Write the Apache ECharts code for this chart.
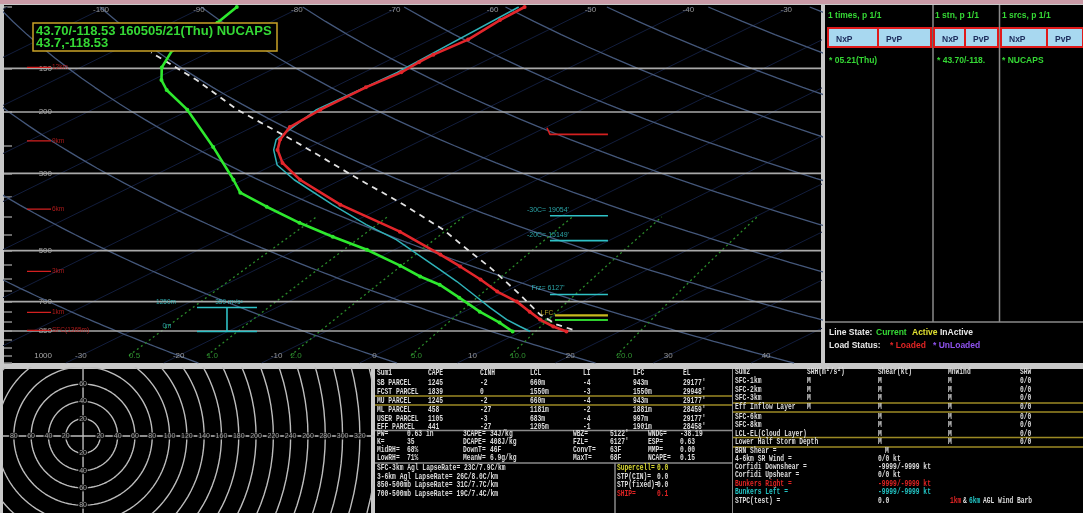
<!DOCTYPE html>
<html>
<head>
<meta charset="utf-8">
<script src="https://cdn.jsdelivr.net/npm/echarts@6/dist/echarts.min.js"></script>
<style>
html,body{margin:0;padding:0;background:#c9c9c9;overflow:hidden}
#c{width:1083px;height:513px}
</style>
</head>
<body>
<div id="c"></div>
<script>
// ---------------- sounding profiles (pressure hPa / value °C) ----------------
const tempPres = [853, 825, 788, 748, 700, 655, 605, 555, 513, 441, 369, 313, 280, 257, 240, 221, 197, 170, 154, 144, 137, 124, 109, 100];
const tempVals = [14.6, 12.2, 9.4, 6.7, 3.3, -0.8, -5.0, -9.8, -14.3, -23.2, -34.9, -44.2, -49.5, -52.7, -54.6, -56.2, -56.7, -56.7, -56.2, -56.5, -56.6, -56.2, -57.0, -57.2];
const dewPres = [853, 804, 748, 682, 626, 593, 552, 497, 456, 416, 374, 341, 313, 252, 197, 173, 162, 149, 133, 122, 111, 100];
const dewVals = [9.1, 5.9, 1.6, -3.4, -8.1, -11.8, -16.1, -22.8, -29.0, -35.3, -42.0, -47.6, -51.0, -59.9, -70.3, -76.5, -79.1, -81.7, -84.2, -84.1, -85.3, -86.6];
const wetbulbPres = [853, 825, 788, 728, 668, 613, 567, 465, 421, 369, 313, 284, 257, 240, 197, 154, 100];
const wetbulbVals = [10.9, 8.8, 6.0, 1.8, -2.6, -7.0, -11.2, -21.9, -28.1, -35.7, -44.8, -49.6, -53.1, -55.0, -57.1, -56.6, -57.8];
const parcelPres = [842, 815, 763, 655, 559, 503, 435, 364, 313, 293, 245, 197, 162, 135];
const parcelVals = [14.8, 12.2, 8.4, 1.2, -6.5, -11.9, -19.2, -29.2, -38.1, -41.9, -52.2, -65.2, -75.5, -85.9];

// ---------------- diagram furniture ----------------
const isobars = [150, 200, 300, 500, 700, 850];
const pressureLabels = [150, 200, 300, 500, 700, 850, 1000];
const pressureTicks = [100, 150, 200, 250, 300, 350, 400, 450, 500, 550, 600, 650, 700, 750, 800, 850, 900, 950, 1000, 1050];
const topTempLabels = [-100, -90, -80, -70, -60, -50, -40, -30];
const bottomTempLabels = [-30, -20, -10, 0, 10, 20, 30, 40];
const mixingRatios = [0.5, 1, 2, 5, 10, 20];
const mixingLabels = ['0.5', '1.0', '2.0', '5.0', '10.0', '20.0'];

// heights AGL marked on the left edge
const heightNames = ['12km', '9km', '6km', '3km', '1km', 'SFC(1365m)'];
const heightPres = [149, 242, 380, 573, 752, 847];

// level markers on the right side
const levelNames = ["-30C= 19054'", "-20C= 15149'", "Frz= 6127'"];
const levelPres = [397, 468, 668];
const lfcPres = 767, lclPres = 790, elPres = 232, elHookPres = 222;
const inflowTopPres = 728, inflowBotPres = 853;
const inflowTexts = ['1250m', '0m', '359 m²/s²'];

// hodograph rings and labels (kt)
const ringKts = [20, 40, 60, 80, 100, 120, 140, 160, 180, 200, 220, 240, 260, 280, 300, 320, 340];
const hodoXLabels = [-80, -60, -40, -20, 20, 40, 60, 80, 100, 120, 140, 160, 180, 200, 220, 240, 260, 280, 300, 320];
const hodoYLabels = [60, 40, 20, -20, -40, -60, -80];

// text panels
const titleLines = ['43.70/-118.53 160505/21(Thu) NUCAPS', '43.7,-118.53'];
const sum1Header = ['Sum1', 'CAPE', 'CINH', 'LCL', 'LI', 'LFC', 'EL'];
const sum1Rows = [
  ['SB PARCEL', '1245', '-2', '660m', '-4', '943m', "29177'"],
  ['FCST PARCEL', '1839', '0', '1550m', '-3', '1550m', "29948'"],
  ['MU PARCEL', '1245', '-2', '660m', '-4', '943m', "29177'"],
  ['ML PARCEL', '458', '-27', '1181m', '-2', '1881m', "28459'"],
  ['USER PARCEL', '1105', '-3', '683m', '-4', '997m', "29177'"],
  ['EFF PARCEL', '441', '-27', '1205m', '-1', '1901m', "28458'"]
];
const paramRows = [
  ['PW=', '0.63 in', '3CAPE=', '34J/kg', 'WBZ=', "5122'", 'WNDG=', '-38.19'],
  ['K=', '35', 'DCAPE=', '408J/kg', 'FZL=', "6127'", 'ESP=', '0.63'],
  ['MidRH=', '68%', 'DownT=', '46F', 'ConvT=', '63F', 'MMP=', '0.00'],
  ['LowRH=', '71%', 'MeanW=', '6.9g/kg', 'MaxT=', '68F', 'NCAPE=', '0.15']
];
const lapseRows = [
  'SFC-3km Agl LapseRate= 23C/7.9C/km',
  '3-6km Agl LapseRate= 26C/8.0C/km',
  '850-500mb LapseRate= 31C/7.7C/km',
  '700-500mb LapseRate= 19C/7.4C/km'
];
const stormParams = [['Supercell=', '0.0', '#d9d934'], ['STP(CIN)=', '0.0', '#dcdcdc'], ['STP(fixed)=', '0.0', '#dcdcdc'], ['SHIP=', '0.1', '#e02424']];
const sum2Header = ['Sum2', 'SRH(m²/s²)', 'Shear(kt)', 'MnWind', 'SRW'];
const sum2Rows = [
  ['SFC-1km', 'M', 'M', 'M', '0/0'],
  ['SFC-2km', 'M', 'M', 'M', '0/0'],
  ['SFC-3km', 'M', 'M', 'M', '0/0'],
  ['Eff Inflow Layer', 'M', 'M', 'M', '0/0'],
  ['SFC-6km', '', 'M', 'M', '0/0'],
  ['SFC-8km', '', 'M', 'M', '0/0'],
  ['LCL-EL(Cloud Layer)', '', 'M', 'M', '0/0'],
  ['Lower Half Storm Depth', '', 'M', 'M', '0/0']
];
const windRows = [
  ['BRN Shear =', 'M', '#dcdcdc'],
  ['4-6km SR Wind =', '0/0 kt', '#dcdcdc'],
  ['Corfidi Downshear =', '-9999/-9999 kt', '#dcdcdc'],
  ['Corfidi Upshear =', '0/0 kt', '#dcdcdc'],
  ['Bunkers Right =', '-9999/-9999 kt', '#e02424'],
  ['Bunkers Left =', '-9999/-9999 kt', '#22c4c4'],
  ['STPC(test) =', '0.0', '#dcdcdc']
];

// ---------------- skew-T geometry ----------------
const SKEW = 31.5;                       // °C of shift per ln(1000/p)
const XMIN = -37.85, XMAX = 45.61;       // skewed temperature range across the panel
const PX_PER_DEG = 9.79;
const skewX = (t, p) => t + SKEW * Math.log(1000 / p);
const colX = px => XMIN + (px - 4) / PX_PER_DEG;   // layout column -> axis units

const thetaT = (t1000, p) => (t1000 + 273.15) * Math.pow(p / 1000, 0.2857) - 273.15;
const mixT = (w, p) => { const e = w * p / (622 + w); const l = Math.log(e / 6.112); return 243.5 * l / (17.67 - l); };

const series = [];
const lineS = (data, style, extra) => Object.assign({
  type: 'line', data, xAxisIndex: 0, yAxisIndex: 0, symbol: 'none', silent: true,
  clip: true, lineStyle: style, z: 2
}, extra || {});

// isotherms
for (let t = -110; t <= 40; t += 10) {
  series.push(lineS([[skewX(t, 1050), 1050], [skewX(t, 100), 100]], { color: '#121d3c', width: 1 }));
}
// dry adiabats
for (let t0 = -40; t0 <= 220; t0 += 20) {
  const d = [];
  for (let p = 1050; p >= 100; p -= 10) d.push([skewX(thetaT(t0, p), p), p]);
  series.push(lineS(d, { color: '#44577a', width: 1.3 }));
}
// mixing ratio lines
mixingRatios.forEach(w => {
  const d = [];
  for (let p = 1000; p >= 400; p -= 20) d.push([skewX(mixT(w, p), p), p]);
  series.push(lineS(d, { color: '#2a8a2a', width: 1.3, type: [2, 3] }));
});
// isobars
isobars.forEach(p => series.push(lineS([[XMIN, p], [XMAX, p]], { color: '#a9a9a9', width: 1.6 }, { z: 3 })));

// temperature labels and mixing ratio labels
const labelScatter = (data, label, z) => ({
  type: 'scatter', xAxisIndex: 0, yAxisIndex: 0, symbolSize: 0, silent: true, z: z || 6,
  data, label: Object.assign({ show: true, formatter: '{b}', position: 'inside', fontFamily: 'Liberation Sans', fontSize: 8 }, label)
});
series.push(labelScatter(topTempLabels.map(t => ({ name: String(t), value: [skewX(t, 101.5), 101.5] })), { color: '#b8b8b8', offset: [0, 1] }));
series.push(labelScatter(bottomTempLabels.map(t => ({ name: String(t), value: [t, 1000] })), { color: '#b8b8b8' }));
series.push(labelScatter(mixingRatios.map((w, i) => ({ name: mixingLabels[i], value: [skewX(mixT(w, 1000), 1000), 1000] })), { color: '#3cb43c', align: 'left' }));

// height markers on the left
heightNames.forEach((n, i) => {
  series.push(lineS([[colX(27), heightPres[i]], [colX(51), heightPres[i]]], { color: '#d42020', width: 1.2 }, { z: 5 }));
});
series.push(labelScatter(heightNames.map((n, i) => ({ name: n, value: [colX(52), heightPres[i]] })), { color: '#d42020', align: 'left', fontSize: 6.5 }));

// level markers
const LX0 = colX(550), LX1 = colX(608), LTX = colX(548);
levelPres.forEach(p => series.push(lineS([[LX0, p], [LX1, p]], { color: '#2fc1c6', width: 1.6 }, { z: 5 })));
series.push(labelScatter(levelNames.map((n, i) => ({ name: n, value: [LTX, levelPres[i]] })), { color: '#35c8cc', fontSize: 7, offset: [0, -6] }));
series.push(lineS([[colX(555), lfcPres], [LX1, lfcPres]], { color: '#c8b81e', width: 2.2 }, { z: 5 }));
series.push(lineS([[colX(555), lclPres], [LX1, lclPres]], { color: '#2fd02f', width: 2 }, { z: 5 }));
series.push(labelScatter([{ name: 'LFC', value: [colX(547), lfcPres] }], { color: '#d8c42a', fontSize: 6.5, offset: [0, -2] }));
series.push(labelScatter([{ name: 'LCL', value: [colX(547), lclPres] }], { color: '#2fd02f', fontSize: 6.5, offset: [0, 1] }));
series.push(lineS([[colX(547), elHookPres], [colX(550), elPres], [LX1, elPres]], { color: '#d42020', width: 1.6 }, { z: 5 }));

// effective inflow layer bracket
const IX0 = colX(197), IX1 = colX(257), IXM = colX(227);
series.push(lineS([[IX0, inflowTopPres], [IX1, inflowTopPres]], { color: '#2fc1c6', width: 1.6 }, { z: 5 }));
series.push(lineS([[IX0, inflowBotPres], [IX1, inflowBotPres]], { color: '#2fc1c6', width: 1.6 }, { z: 5 }));
series.push(lineS([[IXM, inflowTopPres], [IXM, inflowBotPres]], { color: '#2fc1c6', width: 1.6 }, { z: 5 }));
series.push(labelScatter([
  { name: inflowTexts[0], value: [colX(166), inflowTopPres] },
  { name: inflowTexts[2], value: [colX(229), inflowTopPres] },
  { name: inflowTexts[1], value: [colX(167), inflowBotPres] }
], { color: '#35c8cc', fontSize: 6.5, offset: [0, -5] }));

// profiles
const prof = (pres, vals) => pres.map((p, i) => [skewX(vals[i], p), p]);
series.push(lineS(prof(wetbulbPres, wetbulbVals), { color: '#2fb2b8', width: 1.5 }, { z: 7 }));
series.push(lineS(prof(parcelPres, parcelVals), { color: '#e2e2e2', width: 1.8, type: [6, 5] }, { z: 8 }));
series.push(lineS(prof(tempPres, tempVals), { color: '#e3262b', width: 2.6 },
  { z: 9, symbol: 'circle', symbolSize: 4, showSymbol: true, itemStyle: { color: '#e3262b' } }));
series.push(lineS(prof(dewPres, dewVals), { color: '#2ee82e', width: 2.6 },
  { z: 9, symbol: 'circle', symbolSize: 4, showSymbol: true, itemStyle: { color: '#2ee82e' } }));

// ---------------- hodograph ----------------
const hodoS = (data, style) => ({ type: 'line', data, xAxisIndex: 1, yAxisIndex: 1, symbol: 'none', silent: true, clip: true, lineStyle: style, z: 2 });
ringKts.forEach(r => {
  const d = [];
  for (let a = 0; a <= 360; a += 3) d.push([r * Math.cos(a * Math.PI / 180), r * Math.sin(a * Math.PI / 180)]);
  series.push(hodoS(d, { color: '#bdbdbd', width: 1.4 }));
});
series.push(hodoS([[-100, 0], [340, 0]], { color: '#bdbdbd', width: 1.4 }));
series.push(hodoS([[0, -100], [0, 100]], { color: '#bdbdbd', width: 1.4 }));
const hodoLabel = { show: true, formatter: '{b}', position: 'inside', color: '#c4c4c4', fontSize: 7, fontFamily: 'Liberation Sans', backgroundColor: '#000', padding: [0, 1] };
series.push({ type: 'scatter', xAxisIndex: 1, yAxisIndex: 1, symbolSize: 0, silent: true, z: 4, label: hodoLabel,
  data: hodoXLabels.map(v => ({ name: String(Math.abs(v)), value: [v, 0] })).concat(hodoYLabels.map(v => ({ name: String(Math.abs(v)), value: [0, v] }))) });

// ---------------- graphic panels and text ----------------
const G = [];
const rect = (x, y, w, h, fill, z, stroke, lw) => G.push({ type: 'rect', z: z || 0, silent: true, shape: { x, y, width: w, height: h }, style: { fill, stroke: stroke || null, lineWidth: lw || 0 } });
const hline = (x1, x2, y, color, w, z) => G.push({ type: 'line', z: z || 1, silent: true, shape: { x1, y1: y, x2, y2: y }, style: { stroke: color, lineWidth: w || 1 } });
const vline = (x, y1, y2, color, w, z) => G.push({ type: 'line', z: z || 1, silent: true, shape: { x1: x, y1, x2: x, y2 }, style: { stroke: color, lineWidth: w || 1 } });
const txt = (x, y, text, fill, font, z, sx) => G.push({ type: 'text', x, y, z: z || 100, silent: true, scaleX: sx || 1,
  style: { text, fill, font, textAlign: 'left', align: 'left', textVerticalAlign: 'middle', verticalAlign: 'middle' } });

// table cells: monospaced glyphs squeezed to the narrow cell pitch
const F_TAB = 'bold 9px "Liberation Mono", monospace';
const SX_TAB = 0.7;
const cell = (x, y, text, fill) => txt(x, y, text, fill, F_TAB, 100, SX_TAB);
const F_PAN = 'bold 8.5px "Liberation Sans", sans-serif';
const TAB_C = '#dcdcdc';

// window chrome
rect(0, 0, 1083, 4, '#c99aa6', -1);
rect(4, 5, 817, 358, '#000', 0);
rect(825, 5, 258, 358, '#000', 0);
rect(3, 369, 368, 144, '#000', 0);
rect(375, 369, 357, 144, '#000', 0);
rect(733, 369, 350, 144, '#000', 0);

// title box
rect(33, 23, 244, 28, '#000', 50, '#c9a227', 1.5);
txt(36, 31, titleLines[0], '#35d835', 'bold 13px "Liberation Sans", sans-serif', 51);
txt(36, 43, titleLines[1], '#35d835', 'bold 13px "Liberation Sans", sans-serif', 51);

// right control panel
txt(828, 16, '1 times, p 1/1', '#35d835', F_PAN);
txt(935, 16, '1 stn, p 1/1', '#35d835', F_PAN);
txt(1002, 16, '1 srcs, p 1/1', '#35d835', F_PAN);
const buttons = [[828, 878], [878, 931], [934, 965], [965, 998], [1001, 1047], [1047, 1083]];
buttons.forEach((b, i) => {
  rect(b[0], 28, b[1] - b[0], 19, '#a8d8f0', 5, '#e01a1a', 2);
  txt(b[0] + 8, 40, i % 2 === 0 ? 'NxP' : 'PvP', '#1c2c5c', F_PAN);
});
vline(933, 5, 322, '#8a8a8a', 1.5);
vline(999.5, 5, 322, '#8a8a8a', 1.5);
hline(825, 1083, 322, '#8a8a8a', 1.5);
txt(829, 61, '* 05.21(Thu)', '#35d835', F_PAN);
txt(937, 61, '* 43.70/-118.', '#35d835', F_PAN);
txt(1002, 61, '* NUCAPS', '#35d835', F_PAN);
txt(829, 333, 'Line State:', '#e8e8e8', F_PAN);
txt(876, 333, 'Current', '#35d835', F_PAN);
txt(912, 333, 'Active', '#e0e030', F_PAN);
txt(940, 333, 'InActive', '#e8e8e8', F_PAN);
txt(829, 346, 'Load Status:', '#e8e8e8', F_PAN);
txt(890, 346, '* Loaded', '#e02424', F_PAN);
txt(933, 346, '* UnLoaded', '#8f52ee', F_PAN);

// parcel summary table
const s1x = [377, 428, 480, 530, 583, 633, 683];
const s1y = [373, 382.5, 391.5, 400.5, 409.5, 418.5, 427];
hline(375, 732, 396, '#9c8a24', 1.5, 3);
hline(375, 732, 405, '#9c8a24', 1.5, 3);
sum1Header.forEach((h, j) => cell(s1x[j], s1y[0], h, TAB_C));
sum1Rows.forEach((r, i) => r.forEach((v, j) => cell(s1x[j], s1y[i + 1], v, TAB_C)));
hline(375, 732, 430.5, '#8a8a8a', 1.5);
const p2x = [377, 407, 463, 490, 573, 610, 648, 680];
const p2y = [433.5, 441.5, 449.5, 457.5];
paramRows.forEach((r, i) => r.forEach((v, j) => cell(p2x[j], p2y[i], v, TAB_C)));
hline(375, 732, 463, '#8a8a8a', 1.5);
vline(615, 463, 513, '#8a8a8a', 1.5);
const p3y = [468, 476.5, 485, 493.5];
lapseRows.forEach((v, i) => cell(377, p3y[i], v, TAB_C));
stormParams.forEach((r, i) => { cell(617, p3y[i], r[0], r[2]); cell(657, p3y[i], r[1], r[2]); });

// shear summary table
vline(732.5, 369, 513, '#8a8a8a', 1);
const s2x = [735, 807, 878, 948, 1020];
const s2y = [372, 380.5, 389.5, 398, 407, 416.5, 425, 433.5, 442];
hline(733, 1083, 403, '#9c8a24', 1.5, 3);
hline(733, 1083, 412, '#9c8a24', 1.5, 3);
hline(733, 1083, 437.5, '#9c8a24', 1.5, 3);
hline(733, 1083, 447, '#9c8a24', 1.5, 3);
sum2Header.forEach((h, j) => cell(s2x[j], s2y[0], h, TAB_C));
sum2Rows.forEach((r, i) => r.forEach((v, j) => { if (v) cell(s2x[j], s2y[i + 1], v, TAB_C); }));
const wy = [451, 458.5, 467, 475, 483.5, 492, 500.5];
windRows.forEach((r, i) => { cell(735, wy[i], r[0], r[2]); cell(i === 0 ? 885 : 878, wy[i], r[1], r[2]); });
cell(950, wy[6], '1km', '#e02424');
cell(963, wy[6], '&', TAB_C);
cell(969, wy[6], '6km', '#22c4c4');
cell(983, wy[6], 'AGL Wind Barb', TAB_C);

// ---------------- chart ----------------
const chart = echarts.init(document.getElementById('c'), null, { renderer: 'canvas', width: 1083, height: 513 });
chart.setOption({
  backgroundColor: '#c9c9c9',
  animation: false,
  grid: [
    { left: 4, top: 7, width: 817, height: 356 },
    { left: 3, top: 368, width: 369, height: 145 }
  ],
  xAxis: [
    { type: 'value', gridIndex: 0, min: XMIN, max: XMAX, show: false },
    { type: 'value', gridIndex: 1, min: -92.5, max: 334, show: false }
  ],
  yAxis: [
    { type: 'log', gridIndex: 0, min: 100, max: 1050, inverse: true, logBase: 10, position: 'left',
      axisLine: { show: false, onZero: false }, splitLine: { show: false },
      axisTick: { show: true, inside: true, length: 8, customValues: pressureTicks, lineStyle: { color: '#8c8c8c', width: 1.5 } },
      axisLabel: { show: true, inside: true, margin: 48, align: 'right', customValues: pressureLabels, color: '#a8a8a8', fontSize: 8,
        fontFamily: 'Liberation Sans', formatter: v => String(Math.round(v)) } },
    { type: 'value', gridIndex: 1, min: -89, max: 78.6, show: false }
  ],
  graphic: { elements: G },
  series
});
</script>
</body>
</html>
